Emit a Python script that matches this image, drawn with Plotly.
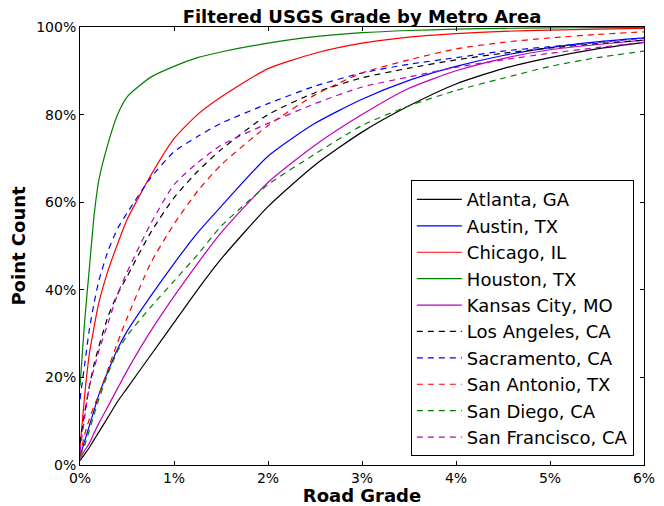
import plotly.graph_objects as go

FONT = "DejaVu Sans, sans-serif"

grade = [0, 0.05, 0.1, 0.15, 0.2, 0.3, 0.4, 0.5, 0.75, 1, 1.25, 1.5,
         2, 2.5, 3, 3.5, 4, 4.5, 5, 5.5, 6]

atlanta = [1, 2.5, 4, 5.8, 7.5, 11, 14.5, 17.5, 25, 32.5, 40, 47,
           59, 68.5, 76, 82, 87, 90.5, 93, 95, 96.5]
austin = [2, 5.5, 9, 12.5, 16, 21.5, 26.5, 30.5, 38.5, 46, 53, 59,
          70.5, 78, 83.5, 87.8, 91, 93.5, 95.3, 96.6, 97.5]
chicago = [4, 16, 25.5, 31.5, 37, 44.5, 50.5, 56, 66, 74.5, 80, 84,
           90.5, 94, 96.3, 97.7, 98.5, 99, 99.3, 99.5, 99.7]
houston = [18, 33, 45, 57, 65, 73.5, 80, 84, 88.5, 91, 93, 94.3,
           96.3, 97.8, 98.7, 99.2, 99.5, 99.7, 99.8, 99.85, 99.9]
kansas_city = [1.5, 3.3, 5, 7.3, 9.5, 13.5, 17.5, 21.5, 30.5, 38.5, 46, 53,
               64.5, 73, 80, 86, 90, 92.8, 94.8, 96, 97]
los_angeles = [5, 12, 18, 23, 27, 34, 39, 43, 53, 61, 67, 72,
               80, 85, 88.4, 90.6, 92.5, 94, 95.2, 96.2, 97]
sacramento = [15, 23, 31, 37, 42, 49, 54, 57.5, 65.5, 71.5, 75, 78,
              82.5, 86.5, 89.5, 91.5, 93, 94.5, 95.5, 96.5, 97.5]
san_antonio = [2, 7, 10.5, 13.5, 16, 22, 28, 33.5, 46, 55, 62.5, 68.5,
               77.5, 84.5, 89.5, 92.5, 95, 96.5, 97.5, 98.3, 98.9]
san_diego = [2, 4.5, 8, 11.5, 15, 21, 26, 29.5, 36, 42, 48, 54.5,
             64, 71, 77.5, 82, 85.5, 88.3, 91, 93, 94.5]
san_francisco = [3, 11, 18, 22, 26, 32.5, 39, 44, 55, 64, 69, 73,
                 78, 82.5, 86.3, 88.6, 90.8, 92.5, 94, 95.3, 96.5]

series = [
    ("Atlanta, GA", atlanta, "#000000", "solid"),
    ("Austin, TX", austin, "#0000ff", "solid"),
    ("Chicago, IL", chicago, "#ff0000", "solid"),
    ("Houston, TX", houston, "#008000", "solid"),
    ("Kansas City, MO", kansas_city, "#bf00bf", "solid"),
    ("Los Angeles, CA", los_angeles, "#000000", "6px,5px"),
    ("Sacramento, CA", sacramento, "#0000ff", "6px,5px"),
    ("San Antonio, TX", san_antonio, "#ff0000", "6px,5px"),
    ("San Diego, CA", san_diego, "#008000", "6px,5px"),
    ("San Francisco, CA", san_francisco, "#bf00bf", "6px,5px"),
]

fig = go.Figure()
for i, (name, vals, color, dash) in enumerate(series):
    fig.add_trace(go.Scatter(
        x=grade, y=vals, name=name, mode="lines", legendgroup=str(i),
        line=dict(color=color, width=1.2, dash=dash, shape="spline", smoothing=0.6),
    ))

axis = dict(showline=True, linecolor="black", linewidth=1, mirror="allticks",
            ticks="inside", ticklen=4, tickcolor="black", showgrid=False,
            zeroline=False, ticksuffix="%", automargin=False,
            tickfont=dict(size=14, color="black"))

# page body has an 8px margin, so the figure is drawn 8px smaller
fig.update_layout(
    width=656, height=498,
    paper_bgcolor="white", plot_bgcolor="white",
    font=dict(family=FONT, color="black", size=14),
    margin=dict(l=72, r=20, t=19, b=41),
    title=dict(text="<b>Filtered USGS Grade by Metro Area</b>", xref="paper", x=0.5,
               xanchor="center", y=1 - 2 / 498, yanchor="top", pad=dict(t=0, b=0),
               font=dict(size=18)),
    legend=dict(x=0.982, xanchor="right", y=0.02, yanchor="bottom",
                bgcolor="white", bordercolor="black", borderwidth=1,
                font=dict(size=18), tracegroupgap=0, itemwidth=45),
    showlegend=True,
)
fig.update_xaxes(**axis, range=[0, 6], dtick=1,
                 title=dict(text="<b>Road Grade</b>", font=dict(size=18), standoff=2))
fig.update_yaxes(**axis, range=[0, 100], dtick=20,
                 title=dict(text="<b>Point Count</b>", font=dict(size=18), standoff=6))

fig.write_html("out.html")
